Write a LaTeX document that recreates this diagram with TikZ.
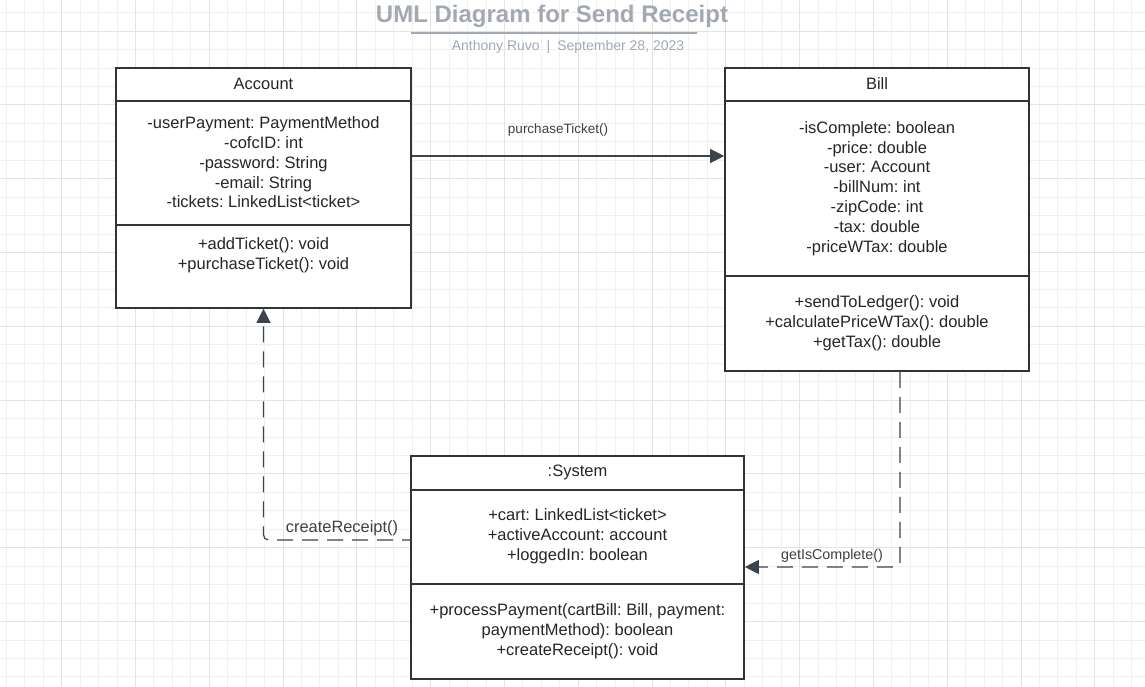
\documentclass[tikz,border=0pt]{standalone}
\usepackage{fontspec}
\setmainfont{Liberation Sans}
\usetikzlibrary{arrows.meta}
\frenchspacing

\definecolor{gridminor}{HTML}{F0F0F0}
\definecolor{gridmajor}{HTML}{E4E4E4}
\definecolor{boxline}{HTML}{333333}
\definecolor{linkline}{HTML}{3D434C}
\definecolor{titlegray}{HTML}{A3A9B3}

\begin{document}
\begin{tikzpicture}[x=1pt,y=-1pt,
  classbox/.style={draw=boxline,line width=1.6pt,fill=white,inner sep=0pt},
  divider/.style={draw=boxline,line width=1.6pt},
  member/.style={align=center,font=\fontsize{16.5}{19.8}\selectfont,text=black!85},
  msg/.style={text=black!75},
  call/.style={draw=linkline,line width=1.2pt,-{Triangle[length=14pt,width=14pt]}},
  reply/.style={call,dash pattern=on 16pt off 9pt,rounded corners=5pt}]
\useasboundingbox (0,0) rectangle (1145,687);
\fill[white] (0,0) rectangle (1145,687);
\foreach \k in {-3,...,58} \draw[gridminor,line width=0.7pt] ({61.5+18.45*\k},0) -- ++(0,687);
\foreach \k in {-21,...,15} \draw[gridminor,line width=0.7pt] (0,{400+18.45*\k}) -- ++(1145,0);
\foreach \k in {0,...,14} \draw[gridmajor,line width=0.7pt] ({61.5+73.8*\k},0) -- ++(0,687);
\foreach \k in {-5,...,3} \draw[gridmajor,line width=0.7pt] (0,{400+73.8*\k}) -- ++(1145,0);

\node[font=\bfseries\fontsize{24}{28}\selectfont,text=titlegray] (title) at (552,16) {UML Diagram for Send Receipt};
\draw[titlegray,line width=2pt] (411,33) -- (697,33);
\node[font=\fontsize{14}{16}\selectfont,text=titlegray] (byline) at (568,47) {Anthony Ruvo\hspace{7pt}|\hspace{7pt}September 28, 2023};

\node[classbox,minimum width=295pt,minimum height=240pt] (account) at (263.5,188) {};
\draw[divider] ([yshift=-34pt]account.north west) -- ([yshift=-34pt]account.north east);
\draw[divider] ([yshift=-158pt]account.north west) -- ([yshift=-158pt]account.north east);
\node[member] (accounttitle) at (263.5,84) {Account};
\node[member] (accountfields) at (263.5,162.5) {-userPayment: PaymentMethod\\-cofcID: int\\-password: String\\-email: String\\-tickets: LinkedList<ticket>};
\node[member] (accountops) at (263.5,255) {+addTicket(): void\\+purchaseTicket(): void};

\node[classbox,minimum width=304pt,minimum height=303pt] (bill) at (877,219.5) {};
\draw[divider] ([yshift=-34pt]bill.north west) -- ([yshift=-34pt]bill.north east);
\draw[divider] ([yshift=-209pt]bill.north west) -- ([yshift=-209pt]bill.north east);
\node[member] (billtitle) at (877,84) {Bill};
\node[member] (billfields) at (877,188.5) {-isComplete: boolean\\-price: double\\-user: Account\\-billNum: int\\-zipCode: int\\-tax: double\\-priceWTax: double};
\node[member] (billops) at (877,323) {+sendToLedger(): void\\+calculatePriceWTax(): double\\+getTax(): double};

\node[classbox,minimum width=333pt,minimum height=223pt] (system) at (577.5,567.5) {};
\draw[divider] ([yshift=-35pt]system.north west) -- ([yshift=-35pt]system.north east);
\draw[divider] ([yshift=-129pt]system.north west) -- ([yshift=-129pt]system.north east);
\node[member] (systemtitle) at (577.5,472) {:System};
\node[member] (systemfields) at (577.5,536.5) {+cart: LinkedList<ticket>\\+activeAccount: account\\+loggedIn: boolean};
\node[member] (systemops) at (577.5,631.5) {+processPayment(cartBill: Bill, payment:\\paymentMethod): boolean\\+createReceipt(): void};

\coordinate (buy) at (0,156);
\draw[call] (account.east |- buy) -- (bill.west |- buy);
\node[msg,font=\fontsize{13.5}{16}\selectfont] (buylabel) at (558,130) {purchaseTicket()};

\coordinate (receipt) at (0,540);
\draw[reply,dash phase=8pt] (system.west |- receipt) -| (account.south);
\node[msg,font=\fontsize{16.4}{19}\selectfont] (receiptlabel) at (342,528) {createReceipt()};

\coordinate (check) at (900,567);
\draw[reply] (bill.south -| check) |- (system.east |- check);
\node[msg,font=\fontsize{14.3}{17}\selectfont] (checklabel) at (832,556) {getIsComplete()};
\end{tikzpicture}
\end{document}
